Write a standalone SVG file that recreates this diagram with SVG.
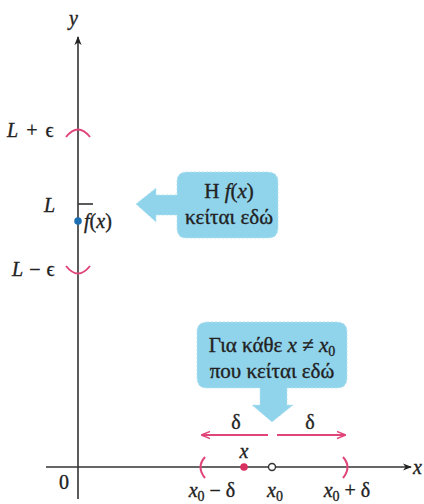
<svg xmlns="http://www.w3.org/2000/svg" width="424" height="504" viewBox="0 0 424 504">
<defs>
<marker id="ah" viewBox="0 0 10 10" refX="9" refY="5" markerWidth="9" markerHeight="9" orient="auto" markerUnits="userSpaceOnUse"><path d="M0,1 L10,5 L0,9 L3,5 Z" fill="#222"/></marker>
<marker id="pk" viewBox="0 0 10 10" refX="9" refY="5" markerWidth="9" markerHeight="9" orient="auto" markerUnits="userSpaceOnUse"><path d="M0,1 L10,5 L0,9" fill="none" stroke="#e0457a" stroke-width="1.5"/></marker>
</defs>
<style>
text{font-family:"Liberation Serif","DejaVu Serif",serif;fill:#222;font-size:20px;stroke:#222;stroke-width:0.35}
.i{font-style:italic}
.axis{stroke:#333;stroke-width:1.6;fill:none}
.pink{stroke:#e0457a;stroke-width:2;fill:none}
.call{fill:#90d4ec;stroke:#b8e4f2;stroke-width:1;stroke-dasharray:2 2}
.c{text-anchor:middle}
.s{font-size:14px}
.b{font-size:21px}
</style>
<g id="connectors">
<line class="axis" x1="78" y1="499" x2="78" y2="37" marker-end="url(#ah)"/>
<line class="axis" x1="46" y1="467" x2="411" y2="467" marker-end="url(#ah)"/>
<line class="pink" x1="268" y1="435" x2="202" y2="435" marker-end="url(#pk)"/>
<line class="pink" x1="277" y1="435" x2="345" y2="435" marker-end="url(#pk)"/>
</g>
<g id="y-axis-labels">
<text class="i" x="69" y="25">y</text>
<text x="413" y="474" class="i">x</text>
<text x="59" y="489">0</text>
<text x="7" y="137" word-spacing="3"><tspan class="i">L</tspan> + ϵ</text>
<text x="44" y="212" class="i">L</text>
<text x="12" y="276" word-spacing="1"><tspan class="i">L</tspan> − ϵ</text>
<path class="pink" d="M66,137 Q78,122 90,137"/>
<path class="pink" d="M66,266 Q78,281 90,266"/>
<line class="axis" x1="78" y1="204" x2="93" y2="204" stroke-width="1.2"/>
<circle cx="78" cy="221" r="3.8" fill="#1d6fb3"/>
<text x="84" y="228"><tspan class="i">f</tspan>(<tspan class="i">x</tspan>)</text>
</g>
<g id="callout-fx">
<path class="call" d="M186,172 H268 Q278,172 278,182 V228 Q278,238 268,238 H186 Q177,238 177,228 V215 H156 V222 L136,204 L156,188 V195 H177 V182 Q177,172 186,172 Z"/>
<text class="c b" x="229" y="198">Η <tspan class="i">f</tspan>(<tspan class="i">x</tspan>)</text>
<text class="c b" x="229" y="224">κείται εδώ</text>
</g>
<g id="callout-x">
<path class="call" d="M207,322 H337 Q347,322 347,332 V378 Q347,388 337,388 H287 V405 H293 L272,422 L252,405 H260 V388 H207 Q197,388 197,378 V332 Q197,322 207,322 Z"/>
<text class="c b" x="272" y="352">Για κάθε <tspan class="i">x</tspan> ≠ <tspan class="i">x</tspan><tspan class="s" dy="4">0</tspan></text>
<text class="c b" x="272" y="378">που κείται εδώ</text>
</g>
<g id="x-axis-marks">
<text class="c" x="236" y="429">δ</text>
<text class="c" x="310" y="429">δ</text>
<path class="pink" d="M205,457 Q196,467 205,478"/>
<path class="pink" d="M343,457 Q352,467 343,478"/>
<circle cx="244" cy="467" r="3.8" fill="#d8305f"/>
<text class="c i" x="244" y="458">x</text>
<circle cx="272" cy="467" r="3.5" fill="#fff" stroke="#333" stroke-width="1.4"/>
<text class="c" x="212" y="497"><tspan class="i">x</tspan><tspan class="s" dy="4">0</tspan><tspan dy="-4"> − δ</tspan></text>
<text class="c" x="275" y="497"><tspan class="i">x</tspan><tspan class="s" dy="4">0</tspan></text>
<text class="c" x="347" y="497"><tspan class="i">x</tspan><tspan class="s" dy="4">0</tspan><tspan dy="-4"> + δ</tspan></text>
</g>
</svg>
